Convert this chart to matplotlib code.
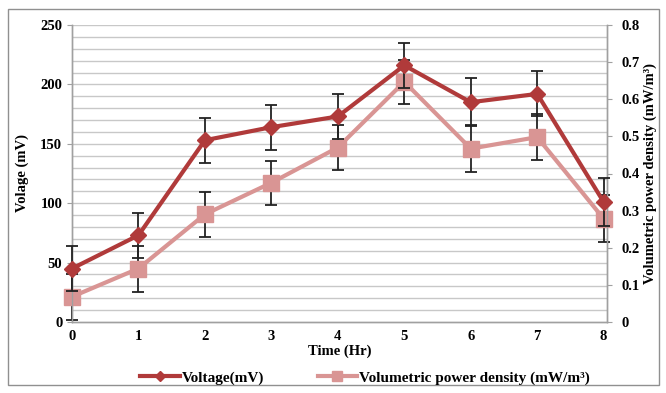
import matplotlib.pyplot as plt
from matplotlib.lines import Line2D
from matplotlib.patches import Rectangle
from matplotlib.ticker import MultipleLocator

plt.rcParams["font.family"] = ["Liberation Serif", "DejaVu Serif"]
plt.rcParams["font.weight"] = "bold"

hours = [0, 1, 2, 3, 4, 5, 6, 7, 8]
voltage = [45, 73, 153, 164, 173, 216, 185, 192, 101]
voltage_err = [19, 19, 19, 19, 19, 19, 20, 19, 20]
power = [0.068, 0.144, 0.29, 0.375, 0.47, 0.647, 0.467, 0.498, 0.278]
power_err = [0.062, 0.062, 0.06, 0.06, 0.06, 0.06, 0.063, 0.062, 0.063]
power_ticks = [0, 0.1, 0.2, 0.3, 0.4, 0.5, 0.6, 0.7, 0.8]

c_volt = "#B03A3A"
c_pow = "#D99594"

fig = plt.figure(figsize=(6.66, 3.93), dpi=100)
ax = fig.add_axes([72 / 666, 1 - 322 / 393, (607 - 72) / 666, (322 - 25) / 393])
ax2 = ax.twinx()

ax2.errorbar(hours, power, yerr=power_err, color=c_pow, lw=3,
             marker="s", ms=11, ecolor="#222222", elinewidth=1.3,
             capsize=4, capthick=1.3, zorder=3, clip_on=False)
ax.errorbar(hours, voltage, yerr=voltage_err, color=c_volt, lw=3,
            marker="D", ms=8, ecolor="#222222", elinewidth=1.3,
            capsize=4, capthick=1.3, zorder=4, clip_on=False)
ax.set_zorder(ax2.get_zorder() + 1)
ax.patch.set_visible(False)

ax.set_xlim(0, 8.05)
ax.set_ylim(0, 250)
ax2.set_ylim(0, 0.8)
ax.yaxis.set_major_locator(MultipleLocator(50))
ax.yaxis.set_minor_locator(MultipleLocator(10))
ax2.set_yticks(power_ticks)
ax2.set_yticklabels(["0"] + [f"{v:.1f}" for v in power_ticks[1:]])
ax.set_xticks(hours)

ax2.grid(False)
for y in range(10, 251, 10):
    ax2.axhline(y / 250 * 0.8, color="#c8c8c8", lw=1, zorder=0)

for a in (ax, ax2):
    a.spines["top"].set_visible(False)
    for s in ("left", "right", "bottom"):
        a.spines[s].set_color("#a0a0a0")
        a.spines[s].set_linewidth(1)
    a.tick_params(labelsize=10.5, colors="#a0a0a0", labelcolor="black")
ax.tick_params(axis="y", which="minor", length=0)
ax.tick_params(axis="x", length=0, pad=6)
ax2.tick_params(axis="y", pad=7)

ax.set_xlabel("Time (Hr)", fontsize=10.5, fontweight="bold", labelpad=1)
ax.set_ylabel("Volage (mV)", fontsize=10.5, fontweight="bold", labelpad=8)
ax2.set_ylabel("Volumetric power density (mW/m³)", fontsize=10.5,
               fontweight="bold", labelpad=3)

handles = [
    Line2D([], [], color=c_volt, lw=3, marker="D", ms=5),
    Line2D([], [], color=c_pow, lw=3, marker="s", ms=7),
]
fig.legend(handles, ["Voltage(mV)", "Volumetric power density (mW/m³)"],
           loc="center", bbox_to_anchor=(0.548, 1 - 378 / 393),
           ncol=2, frameon=False, fontsize=11, columnspacing=3.5,
           handlelength=2.6, handletextpad=0.1)

fig.patches.append(Rectangle((8 / 666, 8 / 393), 651 / 666, 376 / 393,
                             transform=fig.transFigure, fill=False,
                             edgecolor="#909090", lw=1))

fig.savefig("out.png", dpi=100)
